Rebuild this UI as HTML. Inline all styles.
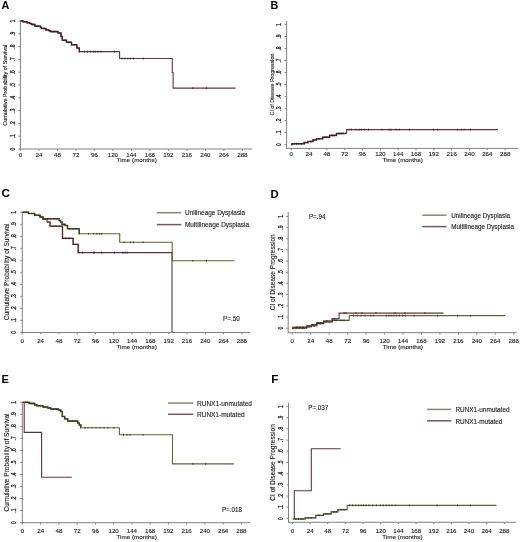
<!DOCTYPE html>
<html><head><meta charset="utf-8"><style>
html,body{margin:0;padding:0;background:#fff;}
body{width:520px;height:542px;overflow:hidden;}
svg{display:block;font-family:"Liberation Sans",sans-serif;filter:blur(0.35px);}
text{stroke:#222;stroke-width:0.12px;}
</style></head><body>
<svg width="520" height="542" viewBox="0 0 520 542">
<rect width="520" height="542" fill="#fff"/>
<text x="1.6" y="8.7" font-size="10.8" font-weight="bold" fill="#000" style="stroke:none">A</text>
<line x1="20.40" y1="21.00" x2="20.40" y2="149.50" stroke="#808080" stroke-width="1.0"/>
<line x1="19.90" y1="149.00" x2="252.00" y2="149.00" stroke="#808080" stroke-width="1.0"/>
<line x1="18.40" y1="149.00" x2="20.40" y2="149.00" stroke="#808080" stroke-width="1.0"/>
<text transform="translate(15.30,149.00) scale(1.0,0.72) rotate(-90)" font-size="6.9" text-anchor="middle" fill="#222" style="stroke-width:0.3px">0</text>
<line x1="18.40" y1="136.20" x2="20.40" y2="136.20" stroke="#808080" stroke-width="1.0"/>
<text transform="translate(15.30,136.20) scale(1.0,0.72) rotate(-90)" font-size="6.9" text-anchor="middle" fill="#222" style="stroke-width:0.3px">.1</text>
<line x1="18.40" y1="123.40" x2="20.40" y2="123.40" stroke="#808080" stroke-width="1.0"/>
<text transform="translate(15.30,123.40) scale(1.0,0.72) rotate(-90)" font-size="6.9" text-anchor="middle" fill="#222" style="stroke-width:0.3px">.2</text>
<line x1="18.40" y1="110.60" x2="20.40" y2="110.60" stroke="#808080" stroke-width="1.0"/>
<text transform="translate(15.30,110.60) scale(1.0,0.72) rotate(-90)" font-size="6.9" text-anchor="middle" fill="#222" style="stroke-width:0.3px">.3</text>
<line x1="18.40" y1="97.80" x2="20.40" y2="97.80" stroke="#808080" stroke-width="1.0"/>
<text transform="translate(15.30,97.80) scale(1.0,0.72) rotate(-90)" font-size="6.9" text-anchor="middle" fill="#222" style="stroke-width:0.3px">.4</text>
<line x1="18.40" y1="85.00" x2="20.40" y2="85.00" stroke="#808080" stroke-width="1.0"/>
<text transform="translate(15.30,85.00) scale(1.0,0.72) rotate(-90)" font-size="6.9" text-anchor="middle" fill="#222" style="stroke-width:0.3px">.5</text>
<line x1="18.40" y1="72.20" x2="20.40" y2="72.20" stroke="#808080" stroke-width="1.0"/>
<text transform="translate(15.30,72.20) scale(1.0,0.72) rotate(-90)" font-size="6.9" text-anchor="middle" fill="#222" style="stroke-width:0.3px">.6</text>
<line x1="18.40" y1="59.40" x2="20.40" y2="59.40" stroke="#808080" stroke-width="1.0"/>
<text transform="translate(15.30,59.40) scale(1.0,0.72) rotate(-90)" font-size="6.9" text-anchor="middle" fill="#222" style="stroke-width:0.3px">.7</text>
<line x1="18.40" y1="46.60" x2="20.40" y2="46.60" stroke="#808080" stroke-width="1.0"/>
<text transform="translate(15.30,46.60) scale(1.0,0.72) rotate(-90)" font-size="6.9" text-anchor="middle" fill="#222" style="stroke-width:0.3px">.8</text>
<line x1="18.40" y1="33.80" x2="20.40" y2="33.80" stroke="#808080" stroke-width="1.0"/>
<text transform="translate(15.30,33.80) scale(1.0,0.72) rotate(-90)" font-size="6.9" text-anchor="middle" fill="#222" style="stroke-width:0.3px">.9</text>
<line x1="18.40" y1="21.00" x2="20.40" y2="21.00" stroke="#808080" stroke-width="1.0"/>
<text transform="translate(15.30,21.00) scale(1.0,0.72) rotate(-90)" font-size="6.9" text-anchor="middle" fill="#222" style="stroke-width:0.3px">1</text>
<line x1="20.40" y1="149.00" x2="20.40" y2="150.80" stroke="#808080" stroke-width="1.0"/>
<text transform="translate(20.40,157.10) scale(1,0.92)" font-size="6.2" text-anchor="middle" fill="#222" font-weight="normal">0</text>
<line x1="38.90" y1="149.00" x2="38.90" y2="150.80" stroke="#808080" stroke-width="1.0"/>
<text transform="translate(38.90,157.10) scale(1,0.92)" font-size="6.2" text-anchor="middle" fill="#222" font-weight="normal">24</text>
<line x1="57.40" y1="149.00" x2="57.40" y2="150.80" stroke="#808080" stroke-width="1.0"/>
<text transform="translate(57.40,157.10) scale(1,0.92)" font-size="6.2" text-anchor="middle" fill="#222" font-weight="normal">48</text>
<line x1="75.90" y1="149.00" x2="75.90" y2="150.80" stroke="#808080" stroke-width="1.0"/>
<text transform="translate(75.90,157.10) scale(1,0.92)" font-size="6.2" text-anchor="middle" fill="#222" font-weight="normal">72</text>
<line x1="94.40" y1="149.00" x2="94.40" y2="150.80" stroke="#808080" stroke-width="1.0"/>
<text transform="translate(94.40,157.10) scale(1,0.92)" font-size="6.2" text-anchor="middle" fill="#222" font-weight="normal">96</text>
<line x1="112.90" y1="149.00" x2="112.90" y2="150.80" stroke="#808080" stroke-width="1.0"/>
<text transform="translate(112.90,157.10) scale(1,0.92)" font-size="6.2" text-anchor="middle" fill="#222" font-weight="normal">120</text>
<line x1="131.40" y1="149.00" x2="131.40" y2="150.80" stroke="#808080" stroke-width="1.0"/>
<text transform="translate(131.40,157.10) scale(1,0.92)" font-size="6.2" text-anchor="middle" fill="#222" font-weight="normal">144</text>
<line x1="149.90" y1="149.00" x2="149.90" y2="150.80" stroke="#808080" stroke-width="1.0"/>
<text transform="translate(149.90,157.10) scale(1,0.92)" font-size="6.2" text-anchor="middle" fill="#222" font-weight="normal">168</text>
<line x1="168.40" y1="149.00" x2="168.40" y2="150.80" stroke="#808080" stroke-width="1.0"/>
<text transform="translate(168.40,157.10) scale(1,0.92)" font-size="6.2" text-anchor="middle" fill="#222" font-weight="normal">192</text>
<line x1="186.90" y1="149.00" x2="186.90" y2="150.80" stroke="#808080" stroke-width="1.0"/>
<text transform="translate(186.90,157.10) scale(1,0.92)" font-size="6.2" text-anchor="middle" fill="#222" font-weight="normal">216</text>
<line x1="205.40" y1="149.00" x2="205.40" y2="150.80" stroke="#808080" stroke-width="1.0"/>
<text transform="translate(205.40,157.10) scale(1,0.92)" font-size="6.2" text-anchor="middle" fill="#222" font-weight="normal">240</text>
<line x1="223.90" y1="149.00" x2="223.90" y2="150.80" stroke="#808080" stroke-width="1.0"/>
<text transform="translate(223.90,157.10) scale(1,0.92)" font-size="6.2" text-anchor="middle" fill="#222" font-weight="normal">264</text>
<line x1="242.40" y1="149.00" x2="242.40" y2="150.80" stroke="#808080" stroke-width="1.0"/>
<text transform="translate(242.40,157.10) scale(1,0.92)" font-size="6.2" text-anchor="middle" fill="#222" font-weight="normal">288</text>
<text transform="translate(136.70,161.80) scale(1,0.92)" font-size="6.3" text-anchor="middle" fill="#222" font-weight="normal">Time (months)</text>
<text transform="translate(7.10,85.30) scale(1.15,1.0) rotate(-90)" font-size="5.45" text-anchor="middle" fill="#222">Cumulative Probability of Survival</text>
<path d="M20.40,21.00 H23.00 V21.80 H27.00 V22.80 H29.50 V23.50 H31.50 V24.40 H35.00 V26.20 H40.50 V27.40 H41.50 V28.50 H46.00 V30.00 H49.00 V30.80 H50.50 V31.60 H58.00 V33.00 H61.00 V36.50 H62.30 V40.30 H66.50 V42.20 H71.50 V44.80 H76.80 V48.00 H79.30 V51.60 H119.60 V58.50 H172.30 V72.50 H173.10 V88.10 H235.60" fill="none" stroke="#66323c" stroke-width="1.1" stroke-linejoin="miter"/>
<path d="M20.60,21.00 H23.00 V21.80 H27.00 V22.80 H29.50 V23.50 H31.50 V24.40 H35.00 V26.20 H40.50 V27.40 H41.50 V28.50 H46.00 V30.00 H49.00 V30.80 H50.50 V31.60 H58.00 V33.00 H61.00 V36.50 H62.30 V40.30 H66.50 V42.20 H71.50 V44.80 H76.80 V48.00 H79.30 V51.60 H80.00" fill="none" stroke="#3a141c" stroke-width="1.5" stroke-opacity="0.8"/>
<line x1="84.60" y1="50.70" x2="84.60" y2="52.50" stroke="#3a141c" stroke-width="0.9"/>
<line x1="87.50" y1="50.70" x2="87.50" y2="52.50" stroke="#3a141c" stroke-width="0.9"/>
<line x1="90.40" y1="50.70" x2="90.40" y2="52.50" stroke="#3a141c" stroke-width="0.9"/>
<line x1="93.30" y1="50.70" x2="93.30" y2="52.50" stroke="#3a141c" stroke-width="0.9"/>
<line x1="95.20" y1="50.70" x2="95.20" y2="52.50" stroke="#3a141c" stroke-width="0.9"/>
<line x1="98.10" y1="50.70" x2="98.10" y2="52.50" stroke="#3a141c" stroke-width="0.9"/>
<line x1="101.00" y1="50.70" x2="101.00" y2="52.50" stroke="#3a141c" stroke-width="0.9"/>
<line x1="114.40" y1="50.70" x2="114.40" y2="52.50" stroke="#3a141c" stroke-width="0.9"/>
<line x1="122.10" y1="57.60" x2="122.10" y2="59.40" stroke="#3a141c" stroke-width="0.9"/>
<line x1="125.00" y1="57.60" x2="125.00" y2="59.40" stroke="#3a141c" stroke-width="0.9"/>
<line x1="127.90" y1="57.60" x2="127.90" y2="59.40" stroke="#3a141c" stroke-width="0.9"/>
<line x1="130.80" y1="57.60" x2="130.80" y2="59.40" stroke="#3a141c" stroke-width="0.9"/>
<line x1="133.70" y1="57.60" x2="133.70" y2="59.40" stroke="#3a141c" stroke-width="0.9"/>
<line x1="143.30" y1="57.60" x2="143.30" y2="59.40" stroke="#3a141c" stroke-width="0.9"/>
<line x1="192.90" y1="87.20" x2="192.90" y2="89.00" stroke="#3a141c" stroke-width="0.9"/>
<line x1="206.40" y1="87.20" x2="206.40" y2="89.00" stroke="#3a141c" stroke-width="0.9"/>
<line x1="22.00" y1="20.10" x2="22.00" y2="21.90" stroke="#3a141c" stroke-width="0.9"/>
<line x1="25.00" y1="20.90" x2="25.00" y2="22.70" stroke="#3a141c" stroke-width="0.9"/>
<line x1="33.00" y1="23.50" x2="33.00" y2="25.30" stroke="#3a141c" stroke-width="0.9"/>
<line x1="37.00" y1="25.30" x2="37.00" y2="27.10" stroke="#3a141c" stroke-width="0.9"/>
<line x1="38.50" y1="25.30" x2="38.50" y2="27.10" stroke="#3a141c" stroke-width="0.9"/>
<line x1="44.00" y1="27.60" x2="44.00" y2="29.40" stroke="#3a141c" stroke-width="0.9"/>
<line x1="52.00" y1="30.70" x2="52.00" y2="32.50" stroke="#3a141c" stroke-width="0.9"/>
<line x1="54.00" y1="30.70" x2="54.00" y2="32.50" stroke="#3a141c" stroke-width="0.9"/>
<line x1="56.00" y1="30.70" x2="56.00" y2="32.50" stroke="#3a141c" stroke-width="0.9"/>
<line x1="65.00" y1="39.40" x2="65.00" y2="41.20" stroke="#3a141c" stroke-width="0.9"/>
<line x1="69.00" y1="41.30" x2="69.00" y2="43.10" stroke="#3a141c" stroke-width="0.9"/>
<line x1="74.00" y1="43.90" x2="74.00" y2="45.70" stroke="#3a141c" stroke-width="0.9"/>
<text x="270.6" y="9.3" font-size="10.8" font-weight="bold" fill="#000" style="stroke:none">B</text>
<line x1="286.60" y1="21.00" x2="286.60" y2="148.90" stroke="#808080" stroke-width="1.0"/>
<line x1="286.10" y1="148.40" x2="518.40" y2="148.40" stroke="#808080" stroke-width="1.0"/>
<line x1="284.60" y1="144.60" x2="286.60" y2="144.60" stroke="#808080" stroke-width="1.0"/>
<text transform="translate(281.30,144.60) scale(1.0,0.72) rotate(-90)" font-size="6.9" text-anchor="middle" fill="#222" style="stroke-width:0.3px">0</text>
<line x1="284.60" y1="132.59" x2="286.60" y2="132.59" stroke="#808080" stroke-width="1.0"/>
<text transform="translate(281.30,132.59) scale(1.0,0.72) rotate(-90)" font-size="6.9" text-anchor="middle" fill="#222" style="stroke-width:0.3px">.1</text>
<line x1="284.60" y1="120.58" x2="286.60" y2="120.58" stroke="#808080" stroke-width="1.0"/>
<text transform="translate(281.30,120.58) scale(1.0,0.72) rotate(-90)" font-size="6.9" text-anchor="middle" fill="#222" style="stroke-width:0.3px">.2</text>
<line x1="284.60" y1="108.57" x2="286.60" y2="108.57" stroke="#808080" stroke-width="1.0"/>
<text transform="translate(281.30,108.57) scale(1.0,0.72) rotate(-90)" font-size="6.9" text-anchor="middle" fill="#222" style="stroke-width:0.3px">.3</text>
<line x1="284.60" y1="96.56" x2="286.60" y2="96.56" stroke="#808080" stroke-width="1.0"/>
<text transform="translate(281.30,96.56) scale(1.0,0.72) rotate(-90)" font-size="6.9" text-anchor="middle" fill="#222" style="stroke-width:0.3px">.4</text>
<line x1="284.60" y1="84.55" x2="286.60" y2="84.55" stroke="#808080" stroke-width="1.0"/>
<text transform="translate(281.30,84.55) scale(1.0,0.72) rotate(-90)" font-size="6.9" text-anchor="middle" fill="#222" style="stroke-width:0.3px">.5</text>
<line x1="284.60" y1="72.54" x2="286.60" y2="72.54" stroke="#808080" stroke-width="1.0"/>
<text transform="translate(281.30,72.54) scale(1.0,0.72) rotate(-90)" font-size="6.9" text-anchor="middle" fill="#222" style="stroke-width:0.3px">.6</text>
<line x1="284.60" y1="60.53" x2="286.60" y2="60.53" stroke="#808080" stroke-width="1.0"/>
<text transform="translate(281.30,60.53) scale(1.0,0.72) rotate(-90)" font-size="6.9" text-anchor="middle" fill="#222" style="stroke-width:0.3px">.7</text>
<line x1="284.60" y1="48.52" x2="286.60" y2="48.52" stroke="#808080" stroke-width="1.0"/>
<text transform="translate(281.30,48.52) scale(1.0,0.72) rotate(-90)" font-size="6.9" text-anchor="middle" fill="#222" style="stroke-width:0.3px">.8</text>
<line x1="284.60" y1="36.51" x2="286.60" y2="36.51" stroke="#808080" stroke-width="1.0"/>
<text transform="translate(281.30,36.51) scale(1.0,0.72) rotate(-90)" font-size="6.9" text-anchor="middle" fill="#222" style="stroke-width:0.3px">.9</text>
<line x1="284.60" y1="24.50" x2="286.60" y2="24.50" stroke="#808080" stroke-width="1.0"/>
<text transform="translate(281.30,24.50) scale(1.0,0.72) rotate(-90)" font-size="6.9" text-anchor="middle" fill="#222" style="stroke-width:0.3px">1</text>
<line x1="291.20" y1="148.40" x2="291.20" y2="150.20" stroke="#808080" stroke-width="1.0"/>
<text transform="translate(291.20,156.30) scale(1,0.92)" font-size="6.2" text-anchor="middle" fill="#222" font-weight="normal">0</text>
<line x1="309.03" y1="148.40" x2="309.03" y2="150.20" stroke="#808080" stroke-width="1.0"/>
<text transform="translate(309.03,156.30) scale(1,0.92)" font-size="6.2" text-anchor="middle" fill="#222" font-weight="normal">24</text>
<line x1="326.86" y1="148.40" x2="326.86" y2="150.20" stroke="#808080" stroke-width="1.0"/>
<text transform="translate(326.86,156.30) scale(1,0.92)" font-size="6.2" text-anchor="middle" fill="#222" font-weight="normal">48</text>
<line x1="344.69" y1="148.40" x2="344.69" y2="150.20" stroke="#808080" stroke-width="1.0"/>
<text transform="translate(344.69,156.30) scale(1,0.92)" font-size="6.2" text-anchor="middle" fill="#222" font-weight="normal">72</text>
<line x1="362.52" y1="148.40" x2="362.52" y2="150.20" stroke="#808080" stroke-width="1.0"/>
<text transform="translate(362.52,156.30) scale(1,0.92)" font-size="6.2" text-anchor="middle" fill="#222" font-weight="normal">96</text>
<line x1="380.35" y1="148.40" x2="380.35" y2="150.20" stroke="#808080" stroke-width="1.0"/>
<text transform="translate(380.35,156.30) scale(1,0.92)" font-size="6.2" text-anchor="middle" fill="#222" font-weight="normal">120</text>
<line x1="398.18" y1="148.40" x2="398.18" y2="150.20" stroke="#808080" stroke-width="1.0"/>
<text transform="translate(398.18,156.30) scale(1,0.92)" font-size="6.2" text-anchor="middle" fill="#222" font-weight="normal">144</text>
<line x1="416.01" y1="148.40" x2="416.01" y2="150.20" stroke="#808080" stroke-width="1.0"/>
<text transform="translate(416.01,156.30) scale(1,0.92)" font-size="6.2" text-anchor="middle" fill="#222" font-weight="normal">168</text>
<line x1="433.84" y1="148.40" x2="433.84" y2="150.20" stroke="#808080" stroke-width="1.0"/>
<text transform="translate(433.84,156.30) scale(1,0.92)" font-size="6.2" text-anchor="middle" fill="#222" font-weight="normal">192</text>
<line x1="451.67" y1="148.40" x2="451.67" y2="150.20" stroke="#808080" stroke-width="1.0"/>
<text transform="translate(451.67,156.30) scale(1,0.92)" font-size="6.2" text-anchor="middle" fill="#222" font-weight="normal">216</text>
<line x1="469.50" y1="148.40" x2="469.50" y2="150.20" stroke="#808080" stroke-width="1.0"/>
<text transform="translate(469.50,156.30) scale(1,0.92)" font-size="6.2" text-anchor="middle" fill="#222" font-weight="normal">240</text>
<line x1="487.33" y1="148.40" x2="487.33" y2="150.20" stroke="#808080" stroke-width="1.0"/>
<text transform="translate(487.33,156.30) scale(1,0.92)" font-size="6.2" text-anchor="middle" fill="#222" font-weight="normal">264</text>
<line x1="505.16" y1="148.40" x2="505.16" y2="150.20" stroke="#808080" stroke-width="1.0"/>
<text transform="translate(505.16,156.30) scale(1,0.92)" font-size="6.2" text-anchor="middle" fill="#222" font-weight="normal">288</text>
<text transform="translate(402.70,161.60) scale(1,0.92)" font-size="6.3" text-anchor="middle" fill="#222" font-weight="normal">Time (months)</text>
<text transform="translate(273.60,84.50) scale(1.0,1.0) rotate(-90)" font-size="5.34" text-anchor="middle" fill="#222">CI of Disease Progression</text>
<path d="M291.20,144.60 H292.00 V143.80 H304.20 V142.60 H308.00 V141.50 H313.00 V139.90 H316.50 V138.80 H322.70 V137.20 H329.60 V135.40 H336.50 V133.50 H346.60 V129.60 H498.00" fill="none" stroke="#66323c" stroke-width="1.1" stroke-linejoin="miter"/>
<path d="M291.40,144.60 H292.00 V143.80 H304.20 V142.60 H308.00 V141.50 H313.00 V139.90 H316.50 V138.80 H322.70 V137.20 H329.60 V135.40 H336.50 V133.50 H346.00" fill="none" stroke="#3a141c" stroke-width="1.5" stroke-opacity="0.8"/>
<line x1="349.20" y1="128.70" x2="349.20" y2="130.50" stroke="#3a141c" stroke-width="0.9"/>
<line x1="351.50" y1="128.70" x2="351.50" y2="130.50" stroke="#3a141c" stroke-width="0.9"/>
<line x1="355.80" y1="128.70" x2="355.80" y2="130.50" stroke="#3a141c" stroke-width="0.9"/>
<line x1="359.20" y1="128.70" x2="359.20" y2="130.50" stroke="#3a141c" stroke-width="0.9"/>
<line x1="361.50" y1="128.70" x2="361.50" y2="130.50" stroke="#3a141c" stroke-width="0.9"/>
<line x1="364.60" y1="128.70" x2="364.60" y2="130.50" stroke="#3a141c" stroke-width="0.9"/>
<line x1="368.50" y1="128.70" x2="368.50" y2="130.50" stroke="#3a141c" stroke-width="0.9"/>
<line x1="381.90" y1="128.70" x2="381.90" y2="130.50" stroke="#3a141c" stroke-width="0.9"/>
<line x1="389.00" y1="128.70" x2="389.00" y2="130.50" stroke="#3a141c" stroke-width="0.9"/>
<line x1="391.00" y1="128.70" x2="391.00" y2="130.50" stroke="#3a141c" stroke-width="0.9"/>
<line x1="396.20" y1="128.70" x2="396.20" y2="130.50" stroke="#3a141c" stroke-width="0.9"/>
<line x1="399.60" y1="128.70" x2="399.60" y2="130.50" stroke="#3a141c" stroke-width="0.9"/>
<line x1="409.20" y1="128.70" x2="409.20" y2="130.50" stroke="#3a141c" stroke-width="0.9"/>
<line x1="433.50" y1="128.70" x2="433.50" y2="130.50" stroke="#3a141c" stroke-width="0.9"/>
<line x1="437.70" y1="128.70" x2="437.70" y2="130.50" stroke="#3a141c" stroke-width="0.9"/>
<line x1="457.50" y1="128.70" x2="457.50" y2="130.50" stroke="#3a141c" stroke-width="0.9"/>
<line x1="461.30" y1="128.70" x2="461.30" y2="130.50" stroke="#3a141c" stroke-width="0.9"/>
<line x1="464.20" y1="128.70" x2="464.20" y2="130.50" stroke="#3a141c" stroke-width="0.9"/>
<line x1="470.40" y1="128.70" x2="470.40" y2="130.50" stroke="#3a141c" stroke-width="0.9"/>
<line x1="294.00" y1="142.90" x2="294.00" y2="144.70" stroke="#3a141c" stroke-width="0.9"/>
<line x1="296.50" y1="142.90" x2="296.50" y2="144.70" stroke="#3a141c" stroke-width="0.9"/>
<line x1="299.00" y1="142.90" x2="299.00" y2="144.70" stroke="#3a141c" stroke-width="0.9"/>
<line x1="301.50" y1="142.90" x2="301.50" y2="144.70" stroke="#3a141c" stroke-width="0.9"/>
<line x1="311.00" y1="140.60" x2="311.00" y2="142.40" stroke="#3a141c" stroke-width="0.9"/>
<line x1="319.00" y1="137.90" x2="319.00" y2="139.70" stroke="#3a141c" stroke-width="0.9"/>
<line x1="325.00" y1="136.30" x2="325.00" y2="138.10" stroke="#3a141c" stroke-width="0.9"/>
<line x1="327.00" y1="136.30" x2="327.00" y2="138.10" stroke="#3a141c" stroke-width="0.9"/>
<line x1="332.00" y1="134.50" x2="332.00" y2="136.30" stroke="#3a141c" stroke-width="0.9"/>
<line x1="334.00" y1="134.50" x2="334.00" y2="136.30" stroke="#3a141c" stroke-width="0.9"/>
<line x1="339.00" y1="132.60" x2="339.00" y2="134.40" stroke="#3a141c" stroke-width="0.9"/>
<line x1="341.00" y1="132.60" x2="341.00" y2="134.40" stroke="#3a141c" stroke-width="0.9"/>
<line x1="343.00" y1="132.60" x2="343.00" y2="134.40" stroke="#3a141c" stroke-width="0.9"/>
<text x="1.5" y="197.3" font-size="11.8" font-weight="bold" fill="#000" style="stroke:none">C</text>
<line x1="22.30" y1="212.30" x2="22.30" y2="333.00" stroke="#808080" stroke-width="1.0"/>
<line x1="21.80" y1="332.50" x2="250.20" y2="332.50" stroke="#808080" stroke-width="1.0"/>
<line x1="20.30" y1="332.30" x2="22.30" y2="332.30" stroke="#808080" stroke-width="1.0"/>
<text transform="translate(16.40,332.30) scale(1.0,0.72) rotate(-90)" font-size="6.9" text-anchor="middle" fill="#222" style="stroke-width:0.3px">0</text>
<line x1="20.30" y1="320.30" x2="22.30" y2="320.30" stroke="#808080" stroke-width="1.0"/>
<text transform="translate(16.40,320.30) scale(1.0,0.72) rotate(-90)" font-size="6.9" text-anchor="middle" fill="#222" style="stroke-width:0.3px">.1</text>
<line x1="20.30" y1="308.30" x2="22.30" y2="308.30" stroke="#808080" stroke-width="1.0"/>
<text transform="translate(16.40,308.30) scale(1.0,0.72) rotate(-90)" font-size="6.9" text-anchor="middle" fill="#222" style="stroke-width:0.3px">.2</text>
<line x1="20.30" y1="296.30" x2="22.30" y2="296.30" stroke="#808080" stroke-width="1.0"/>
<text transform="translate(16.40,296.30) scale(1.0,0.72) rotate(-90)" font-size="6.9" text-anchor="middle" fill="#222" style="stroke-width:0.3px">.3</text>
<line x1="20.30" y1="284.30" x2="22.30" y2="284.30" stroke="#808080" stroke-width="1.0"/>
<text transform="translate(16.40,284.30) scale(1.0,0.72) rotate(-90)" font-size="6.9" text-anchor="middle" fill="#222" style="stroke-width:0.3px">.4</text>
<line x1="20.30" y1="272.30" x2="22.30" y2="272.30" stroke="#808080" stroke-width="1.0"/>
<text transform="translate(16.40,272.30) scale(1.0,0.72) rotate(-90)" font-size="6.9" text-anchor="middle" fill="#222" style="stroke-width:0.3px">.5</text>
<line x1="20.30" y1="260.30" x2="22.30" y2="260.30" stroke="#808080" stroke-width="1.0"/>
<text transform="translate(16.40,260.30) scale(1.0,0.72) rotate(-90)" font-size="6.9" text-anchor="middle" fill="#222" style="stroke-width:0.3px">.6</text>
<line x1="20.30" y1="248.30" x2="22.30" y2="248.30" stroke="#808080" stroke-width="1.0"/>
<text transform="translate(16.40,248.30) scale(1.0,0.72) rotate(-90)" font-size="6.9" text-anchor="middle" fill="#222" style="stroke-width:0.3px">.7</text>
<line x1="20.30" y1="236.30" x2="22.30" y2="236.30" stroke="#808080" stroke-width="1.0"/>
<text transform="translate(16.40,236.30) scale(1.0,0.72) rotate(-90)" font-size="6.9" text-anchor="middle" fill="#222" style="stroke-width:0.3px">.8</text>
<line x1="20.30" y1="224.30" x2="22.30" y2="224.30" stroke="#808080" stroke-width="1.0"/>
<text transform="translate(16.40,224.30) scale(1.0,0.72) rotate(-90)" font-size="6.9" text-anchor="middle" fill="#222" style="stroke-width:0.3px">.9</text>
<line x1="20.30" y1="212.30" x2="22.30" y2="212.30" stroke="#808080" stroke-width="1.0"/>
<text transform="translate(16.40,212.30) scale(1.0,0.72) rotate(-90)" font-size="6.9" text-anchor="middle" fill="#222" style="stroke-width:0.3px">1</text>
<line x1="22.30" y1="332.50" x2="22.30" y2="334.30" stroke="#808080" stroke-width="1.0"/>
<text transform="translate(22.30,342.70) scale(1,0.92)" font-size="6.2" text-anchor="middle" fill="#222" font-weight="normal">0</text>
<line x1="40.60" y1="332.50" x2="40.60" y2="334.30" stroke="#808080" stroke-width="1.0"/>
<text transform="translate(40.60,342.70) scale(1,0.92)" font-size="6.2" text-anchor="middle" fill="#222" font-weight="normal">24</text>
<line x1="58.90" y1="332.50" x2="58.90" y2="334.30" stroke="#808080" stroke-width="1.0"/>
<text transform="translate(58.90,342.70) scale(1,0.92)" font-size="6.2" text-anchor="middle" fill="#222" font-weight="normal">48</text>
<line x1="77.20" y1="332.50" x2="77.20" y2="334.30" stroke="#808080" stroke-width="1.0"/>
<text transform="translate(77.20,342.70) scale(1,0.92)" font-size="6.2" text-anchor="middle" fill="#222" font-weight="normal">72</text>
<line x1="95.50" y1="332.50" x2="95.50" y2="334.30" stroke="#808080" stroke-width="1.0"/>
<text transform="translate(95.50,342.70) scale(1,0.92)" font-size="6.2" text-anchor="middle" fill="#222" font-weight="normal">96</text>
<line x1="113.80" y1="332.50" x2="113.80" y2="334.30" stroke="#808080" stroke-width="1.0"/>
<text transform="translate(113.80,342.70) scale(1,0.92)" font-size="6.2" text-anchor="middle" fill="#222" font-weight="normal">120</text>
<line x1="132.10" y1="332.50" x2="132.10" y2="334.30" stroke="#808080" stroke-width="1.0"/>
<text transform="translate(132.10,342.70) scale(1,0.92)" font-size="6.2" text-anchor="middle" fill="#222" font-weight="normal">144</text>
<line x1="150.40" y1="332.50" x2="150.40" y2="334.30" stroke="#808080" stroke-width="1.0"/>
<text transform="translate(150.40,342.70) scale(1,0.92)" font-size="6.2" text-anchor="middle" fill="#222" font-weight="normal">168</text>
<line x1="168.70" y1="332.50" x2="168.70" y2="334.30" stroke="#808080" stroke-width="1.0"/>
<text transform="translate(168.70,342.70) scale(1,0.92)" font-size="6.2" text-anchor="middle" fill="#222" font-weight="normal">192</text>
<line x1="187.00" y1="332.50" x2="187.00" y2="334.30" stroke="#808080" stroke-width="1.0"/>
<text transform="translate(187.00,342.70) scale(1,0.92)" font-size="6.2" text-anchor="middle" fill="#222" font-weight="normal">216</text>
<line x1="205.30" y1="332.50" x2="205.30" y2="334.30" stroke="#808080" stroke-width="1.0"/>
<text transform="translate(205.30,342.70) scale(1,0.92)" font-size="6.2" text-anchor="middle" fill="#222" font-weight="normal">240</text>
<line x1="223.60" y1="332.50" x2="223.60" y2="334.30" stroke="#808080" stroke-width="1.0"/>
<text transform="translate(223.60,342.70) scale(1,0.92)" font-size="6.2" text-anchor="middle" fill="#222" font-weight="normal">264</text>
<line x1="241.90" y1="332.50" x2="241.90" y2="334.30" stroke="#808080" stroke-width="1.0"/>
<text transform="translate(241.90,342.70) scale(1,0.92)" font-size="6.2" text-anchor="middle" fill="#222" font-weight="normal">288</text>
<text transform="translate(136.60,348.90) scale(1,0.92)" font-size="6.3" text-anchor="middle" fill="#222" font-weight="normal">Time (months)</text>
<text transform="translate(8.90,271.90) scale(1.0,1.0) rotate(-90)" font-size="6.5" text-anchor="middle" fill="#222">Cumulative Probability of Survival</text>
<path d="M22.30,212.30 H28.50 V213.50 H34.60 V215.30 H40.00 V217.00 H43.00 V219.50 H47.00 V222.00 H50.00 V226.20 H62.50 V238.40 H73.10 V244.40 H78.20 V252.60 H172.00 V332.30 H172.00" fill="none" stroke="#66323c" stroke-width="1.1" stroke-linejoin="miter"/>
<path d="M22.30,212.30 H28.50 V213.50 H34.60 V215.30 H40.00 V217.00 H43.00 V218.80 H59.20 V220.50 H60.50 V222.00 H62.00 V224.40 H65.20 V225.50 H67.50 V228.80 H79.20 V233.80 H119.70 V242.30 H172.20 V260.80 H234.40" fill="none" stroke="#5c6638" stroke-width="1.1" stroke-linejoin="miter"/>
<path d="M47.00,222.00 H50.00 V226.20 H62.50 V238.40 H73.10 V244.40 H78.20 V252.60 H80.00" fill="none" stroke="#3a141c" stroke-width="1.3" stroke-opacity="0.6"/>
<path d="M22.50,212.30 H28.50 V213.50 H34.60 V215.30 H40.00 V217.00 H43.00 V218.80 H59.20 V220.50 H60.50 V222.00 H62.00 V224.40 H65.20 V225.50 H67.50 V228.80 H79.20 V233.80 H80.00" fill="none" stroke="#2e3418" stroke-width="1.5" stroke-opacity="0.8"/>
<line x1="192.90" y1="259.90" x2="192.90" y2="261.70" stroke="#2e3418" stroke-width="0.9"/>
<line x1="206.40" y1="259.90" x2="206.40" y2="261.70" stroke="#2e3418" stroke-width="0.9"/>
<line x1="48.00" y1="217.90" x2="48.00" y2="219.70" stroke="#2e3418" stroke-width="0.9"/>
<line x1="51.00" y1="217.90" x2="51.00" y2="219.70" stroke="#2e3418" stroke-width="0.9"/>
<line x1="54.00" y1="217.90" x2="54.00" y2="219.70" stroke="#2e3418" stroke-width="0.9"/>
<line x1="57.00" y1="217.90" x2="57.00" y2="219.70" stroke="#2e3418" stroke-width="0.9"/>
<line x1="64.00" y1="223.50" x2="64.00" y2="225.30" stroke="#2e3418" stroke-width="0.9"/>
<line x1="70.00" y1="227.90" x2="70.00" y2="229.70" stroke="#2e3418" stroke-width="0.9"/>
<line x1="73.00" y1="227.90" x2="73.00" y2="229.70" stroke="#2e3418" stroke-width="0.9"/>
<line x1="76.00" y1="227.90" x2="76.00" y2="229.70" stroke="#2e3418" stroke-width="0.9"/>
<line x1="88.60" y1="232.90" x2="88.60" y2="234.70" stroke="#2e3418" stroke-width="0.9"/>
<line x1="93.70" y1="232.90" x2="93.70" y2="234.70" stroke="#2e3418" stroke-width="0.9"/>
<line x1="96.90" y1="232.90" x2="96.90" y2="234.70" stroke="#2e3418" stroke-width="0.9"/>
<line x1="99.60" y1="232.90" x2="99.60" y2="234.70" stroke="#2e3418" stroke-width="0.9"/>
<line x1="101.70" y1="232.90" x2="101.70" y2="234.70" stroke="#2e3418" stroke-width="0.9"/>
<line x1="124.00" y1="241.40" x2="124.00" y2="243.20" stroke="#2e3418" stroke-width="0.9"/>
<line x1="130.30" y1="241.40" x2="130.30" y2="243.20" stroke="#2e3418" stroke-width="0.9"/>
<line x1="133.50" y1="241.40" x2="133.50" y2="243.20" stroke="#2e3418" stroke-width="0.9"/>
<line x1="143.00" y1="241.40" x2="143.00" y2="243.20" stroke="#2e3418" stroke-width="0.9"/>
<line x1="53.00" y1="225.30" x2="53.00" y2="227.10" stroke="#3a141c" stroke-width="0.9"/>
<line x1="56.00" y1="225.30" x2="56.00" y2="227.10" stroke="#3a141c" stroke-width="0.9"/>
<line x1="59.00" y1="225.30" x2="59.00" y2="227.10" stroke="#3a141c" stroke-width="0.9"/>
<line x1="66.00" y1="237.50" x2="66.00" y2="239.30" stroke="#3a141c" stroke-width="0.9"/>
<line x1="69.00" y1="237.50" x2="69.00" y2="239.30" stroke="#3a141c" stroke-width="0.9"/>
<line x1="82.70" y1="251.70" x2="82.70" y2="253.50" stroke="#3a141c" stroke-width="0.9"/>
<line x1="93.30" y1="251.70" x2="93.30" y2="253.50" stroke="#3a141c" stroke-width="0.9"/>
<line x1="94.30" y1="251.70" x2="94.30" y2="253.50" stroke="#3a141c" stroke-width="0.9"/>
<line x1="101.70" y1="251.70" x2="101.70" y2="253.50" stroke="#3a141c" stroke-width="0.9"/>
<line x1="114.40" y1="251.70" x2="114.40" y2="253.50" stroke="#3a141c" stroke-width="0.9"/>
<line x1="122.90" y1="251.70" x2="122.90" y2="253.50" stroke="#3a141c" stroke-width="0.9"/>
<line x1="125.00" y1="251.70" x2="125.00" y2="253.50" stroke="#3a141c" stroke-width="0.9"/>
<line x1="127.10" y1="251.70" x2="127.10" y2="253.50" stroke="#3a141c" stroke-width="0.9"/>
<line x1="156.80" y1="212.70" x2="181.30" y2="212.70" stroke="#868a72" stroke-width="1.5"/>
<line x1="156.80" y1="224.60" x2="181.30" y2="224.60" stroke="#7a5660" stroke-width="1.5"/>
<text transform="translate(185.00,215.40) scale(1,1.0)" font-size="6.45" text-anchor="start" fill="#222" font-weight="normal">Unilineage Dysplasia</text>
<text transform="translate(185.00,227.30) scale(1,1.0)" font-size="6.45" text-anchor="start" fill="#222" font-weight="normal">Multilineage Dysplasia</text>
<text transform="translate(223.00,320.70) scale(1,1.0)" font-size="6.3" text-anchor="start" fill="#222" font-weight="normal">P=.50</text>
<text x="270.6" y="197.5" font-size="11.3" font-weight="bold" fill="#000" style="stroke:none">D</text>
<line x1="288.20" y1="212.00" x2="288.20" y2="333.20" stroke="#808080" stroke-width="1.0"/>
<line x1="287.70" y1="332.70" x2="516.50" y2="332.70" stroke="#808080" stroke-width="1.0"/>
<line x1="286.20" y1="328.20" x2="288.20" y2="328.20" stroke="#808080" stroke-width="1.0"/>
<text transform="translate(282.70,328.20) scale(1.0,0.72) rotate(-90)" font-size="6.9" text-anchor="middle" fill="#222" style="stroke-width:0.3px">0</text>
<line x1="286.20" y1="317.02" x2="288.20" y2="317.02" stroke="#808080" stroke-width="1.0"/>
<text transform="translate(282.70,317.02) scale(1.0,0.72) rotate(-90)" font-size="6.9" text-anchor="middle" fill="#222" style="stroke-width:0.3px">.1</text>
<line x1="286.20" y1="305.84" x2="288.20" y2="305.84" stroke="#808080" stroke-width="1.0"/>
<text transform="translate(282.70,305.84) scale(1.0,0.72) rotate(-90)" font-size="6.9" text-anchor="middle" fill="#222" style="stroke-width:0.3px">.2</text>
<line x1="286.20" y1="294.66" x2="288.20" y2="294.66" stroke="#808080" stroke-width="1.0"/>
<text transform="translate(282.70,294.66) scale(1.0,0.72) rotate(-90)" font-size="6.9" text-anchor="middle" fill="#222" style="stroke-width:0.3px">.3</text>
<line x1="286.20" y1="283.48" x2="288.20" y2="283.48" stroke="#808080" stroke-width="1.0"/>
<text transform="translate(282.70,283.48) scale(1.0,0.72) rotate(-90)" font-size="6.9" text-anchor="middle" fill="#222" style="stroke-width:0.3px">.4</text>
<line x1="286.20" y1="272.30" x2="288.20" y2="272.30" stroke="#808080" stroke-width="1.0"/>
<text transform="translate(282.70,272.30) scale(1.0,0.72) rotate(-90)" font-size="6.9" text-anchor="middle" fill="#222" style="stroke-width:0.3px">.5</text>
<line x1="286.20" y1="261.12" x2="288.20" y2="261.12" stroke="#808080" stroke-width="1.0"/>
<text transform="translate(282.70,261.12) scale(1.0,0.72) rotate(-90)" font-size="6.9" text-anchor="middle" fill="#222" style="stroke-width:0.3px">.6</text>
<line x1="286.20" y1="249.94" x2="288.20" y2="249.94" stroke="#808080" stroke-width="1.0"/>
<text transform="translate(282.70,249.94) scale(1.0,0.72) rotate(-90)" font-size="6.9" text-anchor="middle" fill="#222" style="stroke-width:0.3px">.7</text>
<line x1="286.20" y1="238.76" x2="288.20" y2="238.76" stroke="#808080" stroke-width="1.0"/>
<text transform="translate(282.70,238.76) scale(1.0,0.72) rotate(-90)" font-size="6.9" text-anchor="middle" fill="#222" style="stroke-width:0.3px">.8</text>
<line x1="286.20" y1="227.58" x2="288.20" y2="227.58" stroke="#808080" stroke-width="1.0"/>
<text transform="translate(282.70,227.58) scale(1.0,0.72) rotate(-90)" font-size="6.9" text-anchor="middle" fill="#222" style="stroke-width:0.3px">.9</text>
<line x1="286.20" y1="216.40" x2="288.20" y2="216.40" stroke="#808080" stroke-width="1.0"/>
<text transform="translate(282.70,216.40) scale(1.0,0.72) rotate(-90)" font-size="6.9" text-anchor="middle" fill="#222" style="stroke-width:0.3px">1</text>
<line x1="292.30" y1="332.70" x2="292.30" y2="334.50" stroke="#808080" stroke-width="1.0"/>
<text transform="translate(292.30,342.50) scale(1,0.92)" font-size="6.2" text-anchor="middle" fill="#222" font-weight="normal">0</text>
<line x1="310.75" y1="332.70" x2="310.75" y2="334.50" stroke="#808080" stroke-width="1.0"/>
<text transform="translate(310.75,342.50) scale(1,0.92)" font-size="6.2" text-anchor="middle" fill="#222" font-weight="normal">24</text>
<line x1="329.20" y1="332.70" x2="329.20" y2="334.50" stroke="#808080" stroke-width="1.0"/>
<text transform="translate(329.20,342.50) scale(1,0.92)" font-size="6.2" text-anchor="middle" fill="#222" font-weight="normal">48</text>
<line x1="347.65" y1="332.70" x2="347.65" y2="334.50" stroke="#808080" stroke-width="1.0"/>
<text transform="translate(347.65,342.50) scale(1,0.92)" font-size="6.2" text-anchor="middle" fill="#222" font-weight="normal">72</text>
<line x1="366.10" y1="332.70" x2="366.10" y2="334.50" stroke="#808080" stroke-width="1.0"/>
<text transform="translate(366.10,342.50) scale(1,0.92)" font-size="6.2" text-anchor="middle" fill="#222" font-weight="normal">96</text>
<line x1="384.55" y1="332.70" x2="384.55" y2="334.50" stroke="#808080" stroke-width="1.0"/>
<text transform="translate(384.55,342.50) scale(1,0.92)" font-size="6.2" text-anchor="middle" fill="#222" font-weight="normal">120</text>
<line x1="403.00" y1="332.70" x2="403.00" y2="334.50" stroke="#808080" stroke-width="1.0"/>
<text transform="translate(403.00,342.50) scale(1,0.92)" font-size="6.2" text-anchor="middle" fill="#222" font-weight="normal">144</text>
<line x1="421.45" y1="332.70" x2="421.45" y2="334.50" stroke="#808080" stroke-width="1.0"/>
<text transform="translate(421.45,342.50) scale(1,0.92)" font-size="6.2" text-anchor="middle" fill="#222" font-weight="normal">168</text>
<line x1="439.90" y1="332.70" x2="439.90" y2="334.50" stroke="#808080" stroke-width="1.0"/>
<text transform="translate(439.90,342.50) scale(1,0.92)" font-size="6.2" text-anchor="middle" fill="#222" font-weight="normal">192</text>
<line x1="458.35" y1="332.70" x2="458.35" y2="334.50" stroke="#808080" stroke-width="1.0"/>
<text transform="translate(458.35,342.50) scale(1,0.92)" font-size="6.2" text-anchor="middle" fill="#222" font-weight="normal">216</text>
<line x1="476.80" y1="332.70" x2="476.80" y2="334.50" stroke="#808080" stroke-width="1.0"/>
<text transform="translate(476.80,342.50) scale(1,0.92)" font-size="6.2" text-anchor="middle" fill="#222" font-weight="normal">240</text>
<line x1="495.25" y1="332.70" x2="495.25" y2="334.50" stroke="#808080" stroke-width="1.0"/>
<text transform="translate(495.25,342.50) scale(1,0.92)" font-size="6.2" text-anchor="middle" fill="#222" font-weight="normal">264</text>
<line x1="513.70" y1="332.70" x2="513.70" y2="334.50" stroke="#808080" stroke-width="1.0"/>
<text transform="translate(513.70,342.50) scale(1,0.92)" font-size="6.2" text-anchor="middle" fill="#222" font-weight="normal">288</text>
<text transform="translate(402.80,348.90) scale(1,0.92)" font-size="6.3" text-anchor="middle" fill="#222" font-weight="normal">Time (months)</text>
<text transform="translate(274.70,272.30) scale(1.0,1.0) rotate(-90)" font-size="6.55" text-anchor="middle" fill="#222">CI of Disease Progression</text>
<path d="M292.30,328.60 H293.00 V328.20 H306.80 V326.80 H311.40 V325.80 H316.80 V323.60 H323.70 V322.00 H332.20 V320.40 H349.20 V315.60 H505.20" fill="none" stroke="#5c6638" stroke-width="1.1" stroke-linejoin="miter"/>
<path d="M292.30,328.20 H293.00 V327.20 H306.80 V325.80 H311.40 V324.80 H316.80 V322.80 H323.70 V321.00 H332.20 V318.80 H339.10 V313.10 H443.50" fill="none" stroke="#66323c" stroke-width="1.1" stroke-linejoin="miter"/>
<path d="M292.50,328.60 H293.00 V328.20 H306.80 V326.80 H311.40 V325.80 H316.80 V323.60 H323.70 V322.00 H332.20 V320.40 H349.00" fill="none" stroke="#2e3418" stroke-width="1.2" stroke-opacity="0.4"/>
<path d="M292.50,328.20 H293.00 V327.20 H306.80 V325.80 H311.40 V324.80 H316.80 V322.80 H323.70 V321.00 H332.20 V318.80 H339.00" fill="none" stroke="#3a141c" stroke-width="1.2" stroke-opacity="0.4"/>
<line x1="353.50" y1="314.70" x2="353.50" y2="316.50" stroke="#2e3418" stroke-width="0.9"/>
<line x1="357.30" y1="314.70" x2="357.30" y2="316.50" stroke="#2e3418" stroke-width="0.9"/>
<line x1="361.20" y1="314.70" x2="361.20" y2="316.50" stroke="#2e3418" stroke-width="0.9"/>
<line x1="365.00" y1="314.70" x2="365.00" y2="316.50" stroke="#2e3418" stroke-width="0.9"/>
<line x1="370.80" y1="314.70" x2="370.80" y2="316.50" stroke="#2e3418" stroke-width="0.9"/>
<line x1="373.70" y1="314.70" x2="373.70" y2="316.50" stroke="#2e3418" stroke-width="0.9"/>
<line x1="386.20" y1="314.70" x2="386.20" y2="316.50" stroke="#2e3418" stroke-width="0.9"/>
<line x1="389.00" y1="314.70" x2="389.00" y2="316.50" stroke="#2e3418" stroke-width="0.9"/>
<line x1="391.00" y1="314.70" x2="391.00" y2="316.50" stroke="#2e3418" stroke-width="0.9"/>
<line x1="393.80" y1="314.70" x2="393.80" y2="316.50" stroke="#2e3418" stroke-width="0.9"/>
<line x1="396.70" y1="314.70" x2="396.70" y2="316.50" stroke="#2e3418" stroke-width="0.9"/>
<line x1="399.60" y1="314.70" x2="399.60" y2="316.50" stroke="#2e3418" stroke-width="0.9"/>
<line x1="402.50" y1="314.70" x2="402.50" y2="316.50" stroke="#2e3418" stroke-width="0.9"/>
<line x1="405.40" y1="314.70" x2="405.40" y2="316.50" stroke="#2e3418" stroke-width="0.9"/>
<line x1="414.00" y1="314.70" x2="414.00" y2="316.50" stroke="#2e3418" stroke-width="0.9"/>
<line x1="437.70" y1="314.70" x2="437.70" y2="316.50" stroke="#2e3418" stroke-width="0.9"/>
<line x1="457.50" y1="314.70" x2="457.50" y2="316.50" stroke="#2e3418" stroke-width="0.9"/>
<line x1="470.40" y1="314.70" x2="470.40" y2="316.50" stroke="#2e3418" stroke-width="0.9"/>
<line x1="344.00" y1="312.20" x2="344.00" y2="314.00" stroke="#3a141c" stroke-width="0.9"/>
<line x1="346.00" y1="312.20" x2="346.00" y2="314.00" stroke="#3a141c" stroke-width="0.9"/>
<line x1="356.00" y1="312.20" x2="356.00" y2="314.00" stroke="#3a141c" stroke-width="0.9"/>
<line x1="362.00" y1="312.20" x2="362.00" y2="314.00" stroke="#3a141c" stroke-width="0.9"/>
<line x1="376.00" y1="312.20" x2="376.00" y2="314.00" stroke="#3a141c" stroke-width="0.9"/>
<line x1="395.00" y1="312.20" x2="395.00" y2="314.00" stroke="#3a141c" stroke-width="0.9"/>
<line x1="405.00" y1="312.20" x2="405.00" y2="314.00" stroke="#3a141c" stroke-width="0.9"/>
<line x1="425.00" y1="312.20" x2="425.00" y2="314.00" stroke="#3a141c" stroke-width="0.9"/>
<line x1="296.00" y1="327.30" x2="296.00" y2="329.10" stroke="#2e3418" stroke-width="0.9"/>
<line x1="299.00" y1="327.30" x2="299.00" y2="329.10" stroke="#2e3418" stroke-width="0.9"/>
<line x1="302.00" y1="327.30" x2="302.00" y2="329.10" stroke="#2e3418" stroke-width="0.9"/>
<line x1="304.00" y1="327.30" x2="304.00" y2="329.10" stroke="#2e3418" stroke-width="0.9"/>
<line x1="309.00" y1="325.90" x2="309.00" y2="327.70" stroke="#2e3418" stroke-width="0.9"/>
<line x1="314.00" y1="324.90" x2="314.00" y2="326.70" stroke="#2e3418" stroke-width="0.9"/>
<line x1="320.00" y1="322.70" x2="320.00" y2="324.50" stroke="#2e3418" stroke-width="0.9"/>
<line x1="326.00" y1="321.10" x2="326.00" y2="322.90" stroke="#2e3418" stroke-width="0.9"/>
<line x1="329.00" y1="321.10" x2="329.00" y2="322.90" stroke="#2e3418" stroke-width="0.9"/>
<line x1="336.00" y1="319.50" x2="336.00" y2="321.30" stroke="#2e3418" stroke-width="0.9"/>
<line x1="341.00" y1="319.50" x2="341.00" y2="321.30" stroke="#2e3418" stroke-width="0.9"/>
<line x1="344.00" y1="319.50" x2="344.00" y2="321.30" stroke="#2e3418" stroke-width="0.9"/>
<line x1="297.00" y1="326.30" x2="297.00" y2="328.10" stroke="#3a141c" stroke-width="0.9"/>
<line x1="300.00" y1="326.30" x2="300.00" y2="328.10" stroke="#3a141c" stroke-width="0.9"/>
<line x1="303.00" y1="326.30" x2="303.00" y2="328.10" stroke="#3a141c" stroke-width="0.9"/>
<line x1="313.00" y1="323.90" x2="313.00" y2="325.70" stroke="#3a141c" stroke-width="0.9"/>
<line x1="318.00" y1="321.90" x2="318.00" y2="323.70" stroke="#3a141c" stroke-width="0.9"/>
<line x1="327.00" y1="320.10" x2="327.00" y2="321.90" stroke="#3a141c" stroke-width="0.9"/>
<line x1="334.00" y1="317.90" x2="334.00" y2="319.70" stroke="#3a141c" stroke-width="0.9"/>
<line x1="422.30" y1="215.20" x2="446.40" y2="215.20" stroke="#868a72" stroke-width="1.5"/>
<line x1="422.30" y1="226.60" x2="446.40" y2="226.60" stroke="#7a5660" stroke-width="1.5"/>
<text transform="translate(451.30,217.90) scale(1,1.0)" font-size="6.3" text-anchor="start" fill="#222" font-weight="normal">Unilineage Dysplasia</text>
<text transform="translate(451.30,229.30) scale(1,1.0)" font-size="6.3" text-anchor="start" fill="#222" font-weight="normal">Multilineage Dysplasia</text>
<text transform="translate(308.90,218.70) scale(1,1.0)" font-size="6.3" text-anchor="start" fill="#222" font-weight="normal">P=.94</text>
<text x="1.6" y="383.0" font-size="11.0" font-weight="bold" fill="#000" style="stroke:none">E</text>
<line x1="22.30" y1="402.30" x2="22.30" y2="523.20" stroke="#808080" stroke-width="1.0"/>
<line x1="21.80" y1="522.70" x2="250.40" y2="522.70" stroke="#808080" stroke-width="1.0"/>
<line x1="20.30" y1="522.60" x2="22.30" y2="522.60" stroke="#808080" stroke-width="1.0"/>
<text transform="translate(16.40,522.60) scale(1.0,0.72) rotate(-90)" font-size="6.9" text-anchor="middle" fill="#222" style="stroke-width:0.3px">0</text>
<line x1="20.30" y1="510.57" x2="22.30" y2="510.57" stroke="#808080" stroke-width="1.0"/>
<text transform="translate(16.40,510.57) scale(1.0,0.72) rotate(-90)" font-size="6.9" text-anchor="middle" fill="#222" style="stroke-width:0.3px">.1</text>
<line x1="20.30" y1="498.54" x2="22.30" y2="498.54" stroke="#808080" stroke-width="1.0"/>
<text transform="translate(16.40,498.54) scale(1.0,0.72) rotate(-90)" font-size="6.9" text-anchor="middle" fill="#222" style="stroke-width:0.3px">.2</text>
<line x1="20.30" y1="486.51" x2="22.30" y2="486.51" stroke="#808080" stroke-width="1.0"/>
<text transform="translate(16.40,486.51) scale(1.0,0.72) rotate(-90)" font-size="6.9" text-anchor="middle" fill="#222" style="stroke-width:0.3px">.3</text>
<line x1="20.30" y1="474.48" x2="22.30" y2="474.48" stroke="#808080" stroke-width="1.0"/>
<text transform="translate(16.40,474.48) scale(1.0,0.72) rotate(-90)" font-size="6.9" text-anchor="middle" fill="#222" style="stroke-width:0.3px">.4</text>
<line x1="20.30" y1="462.45" x2="22.30" y2="462.45" stroke="#808080" stroke-width="1.0"/>
<text transform="translate(16.40,462.45) scale(1.0,0.72) rotate(-90)" font-size="6.9" text-anchor="middle" fill="#222" style="stroke-width:0.3px">.5</text>
<line x1="20.30" y1="450.42" x2="22.30" y2="450.42" stroke="#808080" stroke-width="1.0"/>
<text transform="translate(16.40,450.42) scale(1.0,0.72) rotate(-90)" font-size="6.9" text-anchor="middle" fill="#222" style="stroke-width:0.3px">.6</text>
<line x1="20.30" y1="438.39" x2="22.30" y2="438.39" stroke="#808080" stroke-width="1.0"/>
<text transform="translate(16.40,438.39) scale(1.0,0.72) rotate(-90)" font-size="6.9" text-anchor="middle" fill="#222" style="stroke-width:0.3px">.7</text>
<line x1="20.30" y1="426.36" x2="22.30" y2="426.36" stroke="#808080" stroke-width="1.0"/>
<text transform="translate(16.40,426.36) scale(1.0,0.72) rotate(-90)" font-size="6.9" text-anchor="middle" fill="#222" style="stroke-width:0.3px">.8</text>
<line x1="20.30" y1="414.33" x2="22.30" y2="414.33" stroke="#808080" stroke-width="1.0"/>
<text transform="translate(16.40,414.33) scale(1.0,0.72) rotate(-90)" font-size="6.9" text-anchor="middle" fill="#222" style="stroke-width:0.3px">.9</text>
<line x1="20.30" y1="402.30" x2="22.30" y2="402.30" stroke="#808080" stroke-width="1.0"/>
<text transform="translate(16.40,402.30) scale(1.0,0.72) rotate(-90)" font-size="6.9" text-anchor="middle" fill="#222" style="stroke-width:0.3px">1</text>
<line x1="22.40" y1="522.70" x2="22.40" y2="524.50" stroke="#808080" stroke-width="1.0"/>
<text transform="translate(22.40,533.10) scale(1,0.92)" font-size="6.2" text-anchor="middle" fill="#222" font-weight="normal">0</text>
<line x1="40.65" y1="522.70" x2="40.65" y2="524.50" stroke="#808080" stroke-width="1.0"/>
<text transform="translate(40.65,533.10) scale(1,0.92)" font-size="6.2" text-anchor="middle" fill="#222" font-weight="normal">24</text>
<line x1="58.90" y1="522.70" x2="58.90" y2="524.50" stroke="#808080" stroke-width="1.0"/>
<text transform="translate(58.90,533.10) scale(1,0.92)" font-size="6.2" text-anchor="middle" fill="#222" font-weight="normal">48</text>
<line x1="77.15" y1="522.70" x2="77.15" y2="524.50" stroke="#808080" stroke-width="1.0"/>
<text transform="translate(77.15,533.10) scale(1,0.92)" font-size="6.2" text-anchor="middle" fill="#222" font-weight="normal">72</text>
<line x1="95.40" y1="522.70" x2="95.40" y2="524.50" stroke="#808080" stroke-width="1.0"/>
<text transform="translate(95.40,533.10) scale(1,0.92)" font-size="6.2" text-anchor="middle" fill="#222" font-weight="normal">96</text>
<line x1="113.65" y1="522.70" x2="113.65" y2="524.50" stroke="#808080" stroke-width="1.0"/>
<text transform="translate(113.65,533.10) scale(1,0.92)" font-size="6.2" text-anchor="middle" fill="#222" font-weight="normal">120</text>
<line x1="131.90" y1="522.70" x2="131.90" y2="524.50" stroke="#808080" stroke-width="1.0"/>
<text transform="translate(131.90,533.10) scale(1,0.92)" font-size="6.2" text-anchor="middle" fill="#222" font-weight="normal">144</text>
<line x1="150.15" y1="522.70" x2="150.15" y2="524.50" stroke="#808080" stroke-width="1.0"/>
<text transform="translate(150.15,533.10) scale(1,0.92)" font-size="6.2" text-anchor="middle" fill="#222" font-weight="normal">168</text>
<line x1="168.40" y1="522.70" x2="168.40" y2="524.50" stroke="#808080" stroke-width="1.0"/>
<text transform="translate(168.40,533.10) scale(1,0.92)" font-size="6.2" text-anchor="middle" fill="#222" font-weight="normal">192</text>
<line x1="186.65" y1="522.70" x2="186.65" y2="524.50" stroke="#808080" stroke-width="1.0"/>
<text transform="translate(186.65,533.10) scale(1,0.92)" font-size="6.2" text-anchor="middle" fill="#222" font-weight="normal">216</text>
<line x1="204.90" y1="522.70" x2="204.90" y2="524.50" stroke="#808080" stroke-width="1.0"/>
<text transform="translate(204.90,533.10) scale(1,0.92)" font-size="6.2" text-anchor="middle" fill="#222" font-weight="normal">240</text>
<line x1="223.15" y1="522.70" x2="223.15" y2="524.50" stroke="#808080" stroke-width="1.0"/>
<text transform="translate(223.15,533.10) scale(1,0.92)" font-size="6.2" text-anchor="middle" fill="#222" font-weight="normal">264</text>
<line x1="241.40" y1="522.70" x2="241.40" y2="524.50" stroke="#808080" stroke-width="1.0"/>
<text transform="translate(241.40,533.10) scale(1,0.92)" font-size="6.2" text-anchor="middle" fill="#222" font-weight="normal">288</text>
<text transform="translate(136.60,539.20) scale(1,0.92)" font-size="6.3" text-anchor="middle" fill="#222" font-weight="normal">Time (months)</text>
<text transform="translate(8.90,462.50) scale(1.0,1.0) rotate(-90)" font-size="6.58" text-anchor="middle" fill="#222">Cumulative Probability of Survival</text>
<path d="M22.40,402.30 H29.20 V403.40 H34.60 V404.90 H37.00 V405.80 H43.00 V406.90 H47.70 V408.00 H50.80 V409.10 H58.50 V410.00 H60.80 V411.50 H62.30 V416.50 H64.60 V418.80 H67.70 V421.10 H77.70 V423.00 H79.20 V424.90 H80.80 V427.80 H119.40 V434.80 H172.50 V463.90 H233.90" fill="none" stroke="#5c6638" stroke-width="1.1" stroke-linejoin="miter"/>
<path d="M24.20,402.30 H24.20 V432.40 H41.60 V477.20 H71.80" fill="none" stroke="#66323c" stroke-width="1.1" stroke-linejoin="miter"/>
<path d="M22.50,402.30 H29.20 V403.40 H34.60 V404.90 H37.00 V405.80 H43.00 V406.90 H47.70 V408.00 H50.80 V409.10 H58.50 V410.00 H60.80 V411.50 H62.30 V416.50 H64.60 V418.80 H67.70 V421.10 H77.70 V423.00 H79.20 V424.90 H80.80 V427.80 H81.00" fill="none" stroke="#2e3418" stroke-width="1.5" stroke-opacity="0.8"/>
<line x1="85.00" y1="426.90" x2="85.00" y2="428.70" stroke="#2e3418" stroke-width="0.9"/>
<line x1="88.00" y1="426.90" x2="88.00" y2="428.70" stroke="#2e3418" stroke-width="0.9"/>
<line x1="92.00" y1="426.90" x2="92.00" y2="428.70" stroke="#2e3418" stroke-width="0.9"/>
<line x1="96.00" y1="426.90" x2="96.00" y2="428.70" stroke="#2e3418" stroke-width="0.9"/>
<line x1="100.00" y1="426.90" x2="100.00" y2="428.70" stroke="#2e3418" stroke-width="0.9"/>
<line x1="104.00" y1="426.90" x2="104.00" y2="428.70" stroke="#2e3418" stroke-width="0.9"/>
<line x1="108.00" y1="426.90" x2="108.00" y2="428.70" stroke="#2e3418" stroke-width="0.9"/>
<line x1="114.00" y1="426.90" x2="114.00" y2="428.70" stroke="#2e3418" stroke-width="0.9"/>
<line x1="123.50" y1="433.90" x2="123.50" y2="435.70" stroke="#2e3418" stroke-width="0.9"/>
<line x1="127.00" y1="433.90" x2="127.00" y2="435.70" stroke="#2e3418" stroke-width="0.9"/>
<line x1="130.00" y1="433.90" x2="130.00" y2="435.70" stroke="#2e3418" stroke-width="0.9"/>
<line x1="143.00" y1="433.90" x2="143.00" y2="435.70" stroke="#2e3418" stroke-width="0.9"/>
<line x1="192.90" y1="463.00" x2="192.90" y2="464.80" stroke="#2e3418" stroke-width="0.9"/>
<line x1="205.60" y1="463.00" x2="205.60" y2="464.80" stroke="#2e3418" stroke-width="0.9"/>
<line x1="26.00" y1="401.40" x2="26.00" y2="403.20" stroke="#2e3418" stroke-width="0.9"/>
<line x1="31.00" y1="402.50" x2="31.00" y2="404.30" stroke="#2e3418" stroke-width="0.9"/>
<line x1="33.00" y1="402.50" x2="33.00" y2="404.30" stroke="#2e3418" stroke-width="0.9"/>
<line x1="39.00" y1="404.90" x2="39.00" y2="406.70" stroke="#2e3418" stroke-width="0.9"/>
<line x1="41.00" y1="404.90" x2="41.00" y2="406.70" stroke="#2e3418" stroke-width="0.9"/>
<line x1="45.00" y1="406.00" x2="45.00" y2="407.80" stroke="#2e3418" stroke-width="0.9"/>
<line x1="49.00" y1="407.10" x2="49.00" y2="408.90" stroke="#2e3418" stroke-width="0.9"/>
<line x1="53.00" y1="408.20" x2="53.00" y2="410.00" stroke="#2e3418" stroke-width="0.9"/>
<line x1="55.00" y1="408.20" x2="55.00" y2="410.00" stroke="#2e3418" stroke-width="0.9"/>
<line x1="57.00" y1="408.20" x2="57.00" y2="410.00" stroke="#2e3418" stroke-width="0.9"/>
<line x1="66.00" y1="417.90" x2="66.00" y2="419.70" stroke="#2e3418" stroke-width="0.9"/>
<line x1="70.00" y1="420.20" x2="70.00" y2="422.00" stroke="#2e3418" stroke-width="0.9"/>
<line x1="73.00" y1="420.20" x2="73.00" y2="422.00" stroke="#2e3418" stroke-width="0.9"/>
<line x1="76.00" y1="420.20" x2="76.00" y2="422.00" stroke="#2e3418" stroke-width="0.9"/>
<line x1="168.00" y1="403.10" x2="193.40" y2="403.10" stroke="#868a72" stroke-width="1.5"/>
<line x1="168.00" y1="414.30" x2="193.40" y2="414.30" stroke="#7a5660" stroke-width="1.5"/>
<text transform="translate(197.00,405.80) scale(1,1.0)" font-size="6.5" text-anchor="start" fill="#222" font-weight="normal">RUNX1-unmutated</text>
<text transform="translate(197.00,417.00) scale(1,1.0)" font-size="6.5" text-anchor="start" fill="#222" font-weight="normal">RUNX1-mutated</text>
<text transform="translate(221.90,511.50) scale(1,1.0)" font-size="6.3" text-anchor="start" fill="#222" font-weight="normal">P=.018</text>
<text x="271.2" y="383.2" font-size="11.6" font-weight="bold" fill="#000" style="stroke:none">F</text>
<line x1="288.50" y1="402.80" x2="288.50" y2="522.80" stroke="#808080" stroke-width="1.0"/>
<line x1="288.00" y1="522.30" x2="516.00" y2="522.30" stroke="#808080" stroke-width="1.0"/>
<line x1="286.50" y1="518.50" x2="288.50" y2="518.50" stroke="#808080" stroke-width="1.0"/>
<text transform="translate(282.80,518.50) scale(1.0,0.72) rotate(-90)" font-size="6.9" text-anchor="middle" fill="#222" style="stroke-width:0.3px">0</text>
<line x1="286.50" y1="507.30" x2="288.50" y2="507.30" stroke="#808080" stroke-width="1.0"/>
<text transform="translate(282.80,507.30) scale(1.0,0.72) rotate(-90)" font-size="6.9" text-anchor="middle" fill="#222" style="stroke-width:0.3px">.1</text>
<line x1="286.50" y1="496.10" x2="288.50" y2="496.10" stroke="#808080" stroke-width="1.0"/>
<text transform="translate(282.80,496.10) scale(1.0,0.72) rotate(-90)" font-size="6.9" text-anchor="middle" fill="#222" style="stroke-width:0.3px">.2</text>
<line x1="286.50" y1="484.90" x2="288.50" y2="484.90" stroke="#808080" stroke-width="1.0"/>
<text transform="translate(282.80,484.90) scale(1.0,0.72) rotate(-90)" font-size="6.9" text-anchor="middle" fill="#222" style="stroke-width:0.3px">.3</text>
<line x1="286.50" y1="473.70" x2="288.50" y2="473.70" stroke="#808080" stroke-width="1.0"/>
<text transform="translate(282.80,473.70) scale(1.0,0.72) rotate(-90)" font-size="6.9" text-anchor="middle" fill="#222" style="stroke-width:0.3px">.4</text>
<line x1="286.50" y1="462.50" x2="288.50" y2="462.50" stroke="#808080" stroke-width="1.0"/>
<text transform="translate(282.80,462.50) scale(1.0,0.72) rotate(-90)" font-size="6.9" text-anchor="middle" fill="#222" style="stroke-width:0.3px">.5</text>
<line x1="286.50" y1="451.30" x2="288.50" y2="451.30" stroke="#808080" stroke-width="1.0"/>
<text transform="translate(282.80,451.30) scale(1.0,0.72) rotate(-90)" font-size="6.9" text-anchor="middle" fill="#222" style="stroke-width:0.3px">.6</text>
<line x1="286.50" y1="440.10" x2="288.50" y2="440.10" stroke="#808080" stroke-width="1.0"/>
<text transform="translate(282.80,440.10) scale(1.0,0.72) rotate(-90)" font-size="6.9" text-anchor="middle" fill="#222" style="stroke-width:0.3px">.7</text>
<line x1="286.50" y1="428.90" x2="288.50" y2="428.90" stroke="#808080" stroke-width="1.0"/>
<text transform="translate(282.80,428.90) scale(1.0,0.72) rotate(-90)" font-size="6.9" text-anchor="middle" fill="#222" style="stroke-width:0.3px">.8</text>
<line x1="286.50" y1="417.70" x2="288.50" y2="417.70" stroke="#808080" stroke-width="1.0"/>
<text transform="translate(282.80,417.70) scale(1.0,0.72) rotate(-90)" font-size="6.9" text-anchor="middle" fill="#222" style="stroke-width:0.3px">.9</text>
<line x1="286.50" y1="406.50" x2="288.50" y2="406.50" stroke="#808080" stroke-width="1.0"/>
<text transform="translate(282.80,406.50) scale(1.0,0.72) rotate(-90)" font-size="6.9" text-anchor="middle" fill="#222" style="stroke-width:0.3px">1</text>
<line x1="292.50" y1="522.30" x2="292.50" y2="524.10" stroke="#808080" stroke-width="1.0"/>
<text transform="translate(292.50,533.10) scale(1,0.92)" font-size="6.2" text-anchor="middle" fill="#222" font-weight="normal">0</text>
<line x1="310.15" y1="522.30" x2="310.15" y2="524.10" stroke="#808080" stroke-width="1.0"/>
<text transform="translate(310.15,533.10) scale(1,0.92)" font-size="6.2" text-anchor="middle" fill="#222" font-weight="normal">24</text>
<line x1="327.80" y1="522.30" x2="327.80" y2="524.10" stroke="#808080" stroke-width="1.0"/>
<text transform="translate(327.80,533.10) scale(1,0.92)" font-size="6.2" text-anchor="middle" fill="#222" font-weight="normal">48</text>
<line x1="345.45" y1="522.30" x2="345.45" y2="524.10" stroke="#808080" stroke-width="1.0"/>
<text transform="translate(345.45,533.10) scale(1,0.92)" font-size="6.2" text-anchor="middle" fill="#222" font-weight="normal">72</text>
<line x1="363.10" y1="522.30" x2="363.10" y2="524.10" stroke="#808080" stroke-width="1.0"/>
<text transform="translate(363.10,533.10) scale(1,0.92)" font-size="6.2" text-anchor="middle" fill="#222" font-weight="normal">96</text>
<line x1="380.75" y1="522.30" x2="380.75" y2="524.10" stroke="#808080" stroke-width="1.0"/>
<text transform="translate(380.75,533.10) scale(1,0.92)" font-size="6.2" text-anchor="middle" fill="#222" font-weight="normal">120</text>
<line x1="398.40" y1="522.30" x2="398.40" y2="524.10" stroke="#808080" stroke-width="1.0"/>
<text transform="translate(398.40,533.10) scale(1,0.92)" font-size="6.2" text-anchor="middle" fill="#222" font-weight="normal">144</text>
<line x1="416.05" y1="522.30" x2="416.05" y2="524.10" stroke="#808080" stroke-width="1.0"/>
<text transform="translate(416.05,533.10) scale(1,0.92)" font-size="6.2" text-anchor="middle" fill="#222" font-weight="normal">168</text>
<line x1="433.70" y1="522.30" x2="433.70" y2="524.10" stroke="#808080" stroke-width="1.0"/>
<text transform="translate(433.70,533.10) scale(1,0.92)" font-size="6.2" text-anchor="middle" fill="#222" font-weight="normal">192</text>
<line x1="451.35" y1="522.30" x2="451.35" y2="524.10" stroke="#808080" stroke-width="1.0"/>
<text transform="translate(451.35,533.10) scale(1,0.92)" font-size="6.2" text-anchor="middle" fill="#222" font-weight="normal">216</text>
<line x1="469.00" y1="522.30" x2="469.00" y2="524.10" stroke="#808080" stroke-width="1.0"/>
<text transform="translate(469.00,533.10) scale(1,0.92)" font-size="6.2" text-anchor="middle" fill="#222" font-weight="normal">240</text>
<line x1="486.65" y1="522.30" x2="486.65" y2="524.10" stroke="#808080" stroke-width="1.0"/>
<text transform="translate(486.65,533.10) scale(1,0.92)" font-size="6.2" text-anchor="middle" fill="#222" font-weight="normal">264</text>
<line x1="504.30" y1="522.30" x2="504.30" y2="524.10" stroke="#808080" stroke-width="1.0"/>
<text transform="translate(504.30,533.10) scale(1,0.92)" font-size="6.2" text-anchor="middle" fill="#222" font-weight="normal">288</text>
<text transform="translate(402.40,539.20) scale(1,0.92)" font-size="6.3" text-anchor="middle" fill="#222" font-weight="normal">Time (months)</text>
<text transform="translate(274.80,462.50) scale(1.0,1.0) rotate(-90)" font-size="6.6" text-anchor="middle" fill="#222">CI of Disease Progression</text>
<path d="M292.70,519.00 H305.20 V517.90 H315.80 V515.40 H323.50 V513.90 H331.20 V511.90 H337.90 V509.60 H347.20 V505.40 H496.50" fill="none" stroke="#5c6638" stroke-width="1.1" stroke-linejoin="miter"/>
<path d="M294.30,518.80 H294.30 V490.80 H311.30 V448.80 H340.60" fill="none" stroke="#66323c" stroke-width="1.1" stroke-linejoin="miter"/>
<path d="M292.80,519.00 H305.20 V517.90 H315.80 V515.40 H323.50 V513.90 H331.20 V511.90 H337.90 V509.60 H347.00" fill="none" stroke="#2e3418" stroke-width="1.3" stroke-opacity="0.5"/>
<line x1="349.60" y1="504.50" x2="349.60" y2="506.30" stroke="#2e3418" stroke-width="0.9"/>
<line x1="352.50" y1="504.50" x2="352.50" y2="506.30" stroke="#2e3418" stroke-width="0.9"/>
<line x1="355.40" y1="504.50" x2="355.40" y2="506.30" stroke="#2e3418" stroke-width="0.9"/>
<line x1="358.30" y1="504.50" x2="358.30" y2="506.30" stroke="#2e3418" stroke-width="0.9"/>
<line x1="361.20" y1="504.50" x2="361.20" y2="506.30" stroke="#2e3418" stroke-width="0.9"/>
<line x1="363.50" y1="504.50" x2="363.50" y2="506.30" stroke="#2e3418" stroke-width="0.9"/>
<line x1="366.00" y1="504.50" x2="366.00" y2="506.30" stroke="#2e3418" stroke-width="0.9"/>
<line x1="368.80" y1="504.50" x2="368.80" y2="506.30" stroke="#2e3418" stroke-width="0.9"/>
<line x1="372.70" y1="504.50" x2="372.70" y2="506.30" stroke="#2e3418" stroke-width="0.9"/>
<line x1="376.50" y1="504.50" x2="376.50" y2="506.30" stroke="#2e3418" stroke-width="0.9"/>
<line x1="380.40" y1="504.50" x2="380.40" y2="506.30" stroke="#2e3418" stroke-width="0.9"/>
<line x1="383.30" y1="504.50" x2="383.30" y2="506.30" stroke="#2e3418" stroke-width="0.9"/>
<line x1="386.20" y1="504.50" x2="386.20" y2="506.30" stroke="#2e3418" stroke-width="0.9"/>
<line x1="389.00" y1="504.50" x2="389.00" y2="506.30" stroke="#2e3418" stroke-width="0.9"/>
<line x1="391.90" y1="504.50" x2="391.90" y2="506.30" stroke="#2e3418" stroke-width="0.9"/>
<line x1="395.80" y1="504.50" x2="395.80" y2="506.30" stroke="#2e3418" stroke-width="0.9"/>
<line x1="409.20" y1="504.50" x2="409.20" y2="506.30" stroke="#2e3418" stroke-width="0.9"/>
<line x1="437.10" y1="504.50" x2="437.10" y2="506.30" stroke="#2e3418" stroke-width="0.9"/>
<line x1="457.50" y1="504.50" x2="457.50" y2="506.30" stroke="#2e3418" stroke-width="0.9"/>
<line x1="470.40" y1="504.50" x2="470.40" y2="506.30" stroke="#2e3418" stroke-width="0.9"/>
<line x1="296.00" y1="518.10" x2="296.00" y2="519.90" stroke="#2e3418" stroke-width="0.9"/>
<line x1="298.50" y1="518.10" x2="298.50" y2="519.90" stroke="#2e3418" stroke-width="0.9"/>
<line x1="301.00" y1="518.10" x2="301.00" y2="519.90" stroke="#2e3418" stroke-width="0.9"/>
<line x1="303.00" y1="518.10" x2="303.00" y2="519.90" stroke="#2e3418" stroke-width="0.9"/>
<line x1="308.00" y1="517.00" x2="308.00" y2="518.80" stroke="#2e3418" stroke-width="0.9"/>
<line x1="311.00" y1="517.00" x2="311.00" y2="518.80" stroke="#2e3418" stroke-width="0.9"/>
<line x1="319.00" y1="514.50" x2="319.00" y2="516.30" stroke="#2e3418" stroke-width="0.9"/>
<line x1="326.00" y1="513.00" x2="326.00" y2="514.80" stroke="#2e3418" stroke-width="0.9"/>
<line x1="328.00" y1="513.00" x2="328.00" y2="514.80" stroke="#2e3418" stroke-width="0.9"/>
<line x1="334.00" y1="511.00" x2="334.00" y2="512.80" stroke="#2e3418" stroke-width="0.9"/>
<line x1="336.00" y1="511.00" x2="336.00" y2="512.80" stroke="#2e3418" stroke-width="0.9"/>
<line x1="341.00" y1="508.70" x2="341.00" y2="510.50" stroke="#2e3418" stroke-width="0.9"/>
<line x1="344.00" y1="508.70" x2="344.00" y2="510.50" stroke="#2e3418" stroke-width="0.9"/>
<line x1="426.90" y1="409.40" x2="451.30" y2="409.40" stroke="#868a72" stroke-width="1.5"/>
<line x1="426.90" y1="420.80" x2="451.30" y2="420.80" stroke="#7a5660" stroke-width="1.5"/>
<text transform="translate(455.50,412.10) scale(1,1.0)" font-size="6.4" text-anchor="start" fill="#222" font-weight="normal">RUNX1-unmutated</text>
<text transform="translate(455.50,423.50) scale(1,1.0)" font-size="6.4" text-anchor="start" fill="#222" font-weight="normal">RUNX1-mutated</text>
<text transform="translate(308.20,410.10) scale(1,1.0)" font-size="6.3" text-anchor="start" fill="#222" font-weight="normal">P=.037</text>
</svg>
</body></html>
